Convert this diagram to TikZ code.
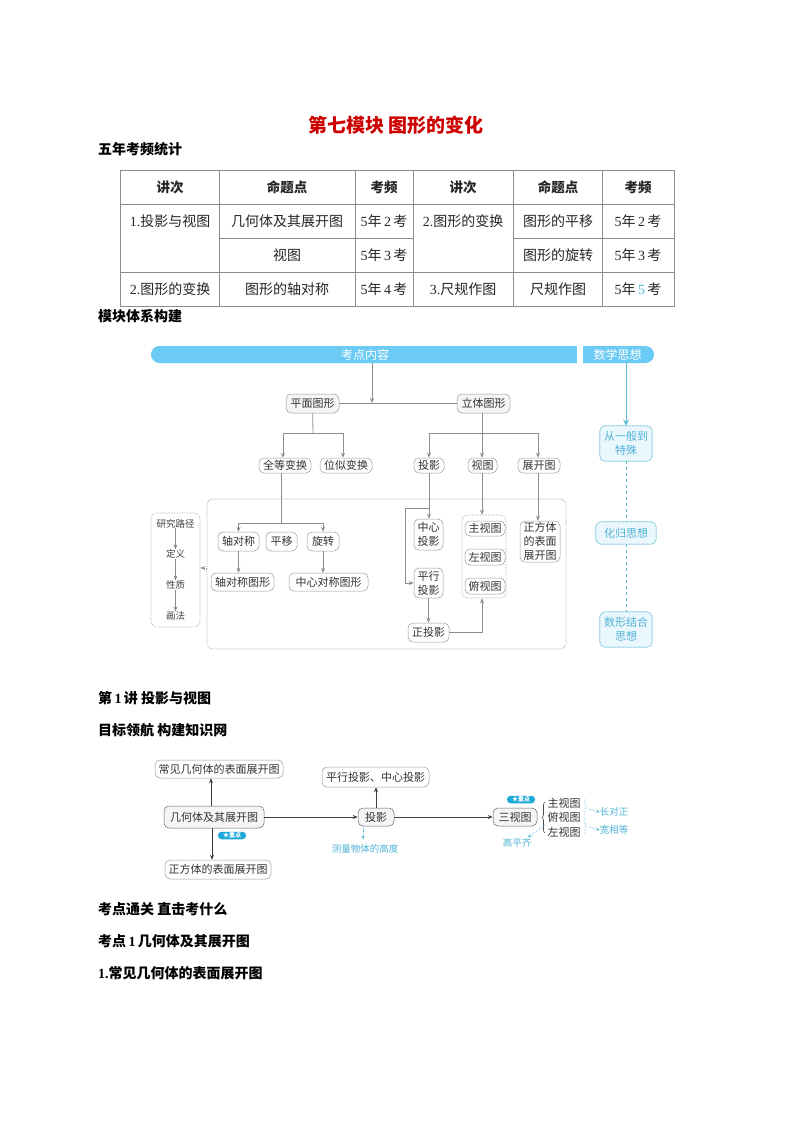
\documentclass[tikz,border=0pt]{standalone}
\usepackage{fontspec}
\setmainfont{Noto Sans CJK SC}
\newfontfamily\lat{Liberation Serif}
\usetikzlibrary{shapes.misc,arrows.meta,positioning,calc,decorations.pathreplacing}
\definecolor{barblue}{HTML}{6CCBF4}
\definecolor{thinkline}{HTML}{5DBAD9}
\definecolor{thinktext}{HTML}{4FB3D6}
\definecolor{thinkfill}{HTML}{EAF7FC}
\definecolor{linegray}{HTML}{8C8C8C}
\definecolor{boxgray}{HTML}{9A9A9A}
\definecolor{badgeblue}{HTML}{1FA9D8}
\newcommand{\freq}[1]{{\lat 5}年\,{\lat #1}\,考}
\tikzset{
    heading/.style = {anchor=west, inner sep=0pt, font=\fontsize{14}{16}\selectfont\bfseries},
    tcell/.style   = {font=\fontsize{14}{16}\selectfont, text=black!85},
    thead/.style   = {tcell, font=\fontsize{13.5}{16}\selectfont\bfseries},
    tline/.style   = {draw=linegray, line width=0.7pt},
    boxn/.style    = {draw=boxgray, line width=0.5pt, rounded corners=5pt, inner sep=0pt, align=center,
                      font=\fontsize{11}{14}\selectfont, text=black!80},
    boxf/.style    = {boxn, fill=gray!8},
    bar/.style     = {rounded rectangle, fill=barblue, minimum height=17pt, inner sep=0pt,
                      font=\fontsize{12}{14}\selectfont, text=white},
    thinkbox/.style = {draw=thinkline, densely dotted, line width=0.6pt, fill=thinkfill, rounded corners=5pt,
                      preaction={draw=thinkline!55, solid, line width=1.3pt},
                      inner sep=0pt, align=center, font=\fontsize{11}{14}\selectfont, text=thinktext},
    dotbox/.style  = {draw=boxgray, densely dotted, line width=0.6pt, rounded corners=6pt, inner sep=0pt},
    step2/.style   = {font=\fontsize{9.5}{11}\selectfont, text=black!75, inner sep=0pt},
    badge/.style   = {fill=badgeblue, rounded corners=3.5pt, inner sep=0pt, minimum width=28pt, minimum height=7.5pt,
                      text=white, font=\fontsize{6}{7}\selectfont\bfseries},
    hand/.style    = {text=thinktext, inner sep=0pt, font=\fontsize{9.5}{11}\selectfont},
    plain2/.style  = {inner sep=0pt, font=\fontsize{11}{13}\selectfont, text=black!80},
    link/.style    = {draw=linegray, line width=0.8pt},
    linkto/.style  = {link, -{Stealth[length=5pt,width=4pt]}},
    darkto/.style  = {draw=black!75, line width=0.7pt, -{Stealth[length=5pt,width=4pt]}},
    thinkto/.style = {draw=thinkline, line width=1pt, -{Stealth[length=6pt,width=6pt]}},
    thinkdash/.style = {draw=thinkline, line width=0.7pt, dashed},
    handto/.style  = {draw=thinkline, line width=0.7pt, densely dotted, -{Stealth[length=3.5pt,width=3.5pt]}}
}
\begin{document}
\begin{tikzpicture}[x=1pt,y=-1pt]
    \useasboundingbox (0,0) rectangle (794,1123);
    \fill[white] (0,0) rectangle (794,1123);
    % headings
    \node[text=red!80!black, font=\fontsize{19}{22}\selectfont\bfseries] (title) at (396,125) {第七模块 图形的变化};
    \node[heading] (h1) at (98,149) {五年考频统计};
    \node[heading] (h2) at (98,316) {模块体系构建};
    \node[heading] (h3) at (98,698) {第\,{\lat\bfseries 1}\,讲 投影与视图};
    \node[heading] (h4) at (98,730) {目标领航 构建知识网};
    \node[heading] (h5) at (98,909) {考点通关 直击考什么};
    \node[heading] (h6) at (98,941) {考点\,{\lat\bfseries 1}\,几何体及其展开图};
    \node[heading] (h7) at (98,973) {{\lat\bfseries 1.}常见几何体的表面展开图};
    % table
    \draw[tline] (120,170) rectangle (674,306);
    \foreach \x in {219,355,413,513,602} \draw[tline] (\x,170) -- (\x,306);
    \draw[tline] (120,204) -- (674,204);
    \draw[tline] (120,272) -- (674,272);
    \draw[tline] (219,238) -- (413,238);
    \draw[tline] (513,238) -- (674,238);
    \node[thead] (a1) at (170,187) {讲次};
    \node[thead] (a2) at (287,187) {命题点};
    \node[thead] (a3) at (384,187) {考频};
    \node[thead] (a4) at (463,187) {讲次};
    \node[thead] (a5) at (558,187) {命题点};
    \node[thead] (a6) at (638,187) {考频};
    \node[tcell] (b1) at (170,221) {{\lat 1.}投影与视图};
    \node[tcell] (b2) at (287,221) {几何体及其展开图};
    \node[tcell] (b3) at (384,221) {\freq{2}};
    \node[tcell] (b4) at (463,221) {{\lat 2.}图形的变换};
    \node[tcell] (b5) at (558,221) {图形的平移};
    \node[tcell] (b6) at (638,221) {\freq{2}};
    \node[tcell] (c2) at (287,255) {视图};
    \node[tcell] (c3) at (384,255) {\freq{3}};
    \node[tcell] (c5) at (558,255) {图形的旋转};
    \node[tcell] (c6) at (638,255) {\freq{3}};
    \node[tcell] (d1) at (170,289) {{\lat 2.}图形的变换};
    \node[tcell] (d2) at (287,289) {图形的轴对称};
    \node[tcell] (d3) at (384,289) {\freq{4}};
    \node[tcell] (d4) at (463,289) {{\lat 3.}尺规作图};
    \node[tcell] (d5) at (558,289) {尺规作图};
    \node[tcell] (d6) at (638,289) {{\lat 5}年{\lat\color{thinktext}\,5\,}考};
    % top bars
    \node[bar, rounded rectangle east arc=none, minimum width=426pt] (content) at (365,354.5) {考点内容};
    \node[bar, rounded rectangle west arc=none, minimum width=71pt] (ideas) at (617.5,354.5) {数学思想};
    % structure
    \node[boxf, minimum width=53pt, minimum height=19pt] (flat) at (312.5,403.5) {平面图形};
    \node[boxf, minimum width=53pt, minimum height=19pt] (solid) at (483.5,403.5) {立体图形};
    \node[boxn, minimum width=52pt, minimum height=15pt] (congr) at (285,465.5) {全等变换};
    \node[boxn, minimum width=52pt, minimum height=15pt] (homo) at (346,465.5) {位似变换};
    \node[boxn, minimum width=30pt, minimum height=15pt] (proj) at (429,465.5) {投影};
    \node[boxn, minimum width=29pt, minimum height=15pt] (view) at (482.5,465.5) {视图};
    \node[boxn, minimum width=42pt, minimum height=15pt] (unfold) at (539,465.5) {展开图};
    \node[dotbox, minimum width=359pt, minimum height=150pt] (frame) at (386.5,574) {};
    \node[dotbox, minimum width=49pt, minimum height=114pt] (pathbox) at (175.5,570) {};
    \node[step2] (p1) at (175.5,523.5) {研究路径};
    \node[step2] (p2) at (175.5,554) {定义};
    \node[step2] (p3) at (175.5,585) {性质};
    \node[step2] (p4) at (175.5,616) {画法};
    \node[boxn, minimum width=41pt, minimum height=19pt] (axis) at (238.5,541.5) {轴对称};
    \node[boxn, minimum width=31pt, minimum height=19pt] (shift) at (281.5,541.5) {平移};
    \node[boxn, minimum width=32pt, minimum height=19pt] (turn) at (323,541.5) {旋转};
    \node[boxn, minimum width=63pt, minimum height=18pt] (axisfig) at (242.5,582) {轴对称图形};
    \node[boxn, minimum width=79pt, minimum height=18pt] (centerfig) at (328.5,582) {中心对称图形};
    \node[boxn, minimum width=29pt, minimum height=31pt] (cproj) at (428.5,534.5) {中心\\投影};
    \node[boxn, minimum width=29pt, minimum height=30pt] (pproj) at (428.5,583) {平行\\投影};
    \node[boxn, minimum width=41pt, minimum height=19pt] (oproj) at (428.5,632.5) {正投影};
    \node[dotbox, minimum width=44pt, minimum height=83pt] (viewbox) at (484,556.5) {};
    \node[boxn, minimum width=40pt, minimum height=15pt] (front) at (485,528.5) {主视图};
    \node[boxn, minimum width=40pt, minimum height=16pt] (left) at (485,557) {左视图};
    \node[boxn, minimum width=40pt, minimum height=16pt] (top) at (485,586) {俯视图};
    \node[boxn, minimum width=40pt, minimum height=41pt] (cube) at (540,541.5) {正方体\\的表面\\展开图};
    \node[thinkbox, minimum width=52pt, minimum height=35pt] (general) at (626,443.5) {从一般到\\特殊};
    \node[thinkbox, minimum width=60pt, minimum height=22pt] (reduce) at (626,533) {化归思想};
    \node[thinkbox, minimum width=52pt, minimum height=35pt] (numshape) at (626,629.5) {数形结合\\思想};
    \coordinate (flatfork) at (313,433);
    \coordinate (solidfork) at (482,433);
    \coordinate (congrfork) at (281,523);
    \coordinate (midline) at (372,403);
    \coordinate (projfork) at (429,508);
    \coordinate (projturn) at (405,545);
    % connectors
    \draw[linkto] ([xshift=7pt]content.south) -- (midline);
    \draw[link] (flat) -- (solid);
    \draw[link] (flat) -- (flatfork);
    \draw[linkto] (flatfork) -| ([xshift=-2pt]congr.north);
    \draw[linkto] (flatfork) -| ([xshift=-3pt]homo.north);
    \draw[link] (solid.south -| solidfork) -- (solidfork);
    \draw[linkto] (solidfork) -| (proj.north);
    \draw[linkto] (solidfork) -- (view.north -| solidfork);
    \draw[linkto] (solidfork) -| ([xshift=-1pt]unfold.north);
    \draw[link] (congr.south -| congrfork) -- (congrfork);
    \draw[linkto] (congrfork) -| (axis.north);
    \draw[linkto] (congrfork) -| (turn.north);
    \draw[linkto] (axis) -- (axis.south |- axisfig.north);
    \draw[linkto] (turn) -- (turn.south |- centerfig.north);
    \draw[linkto] (proj) -- (cproj.north -| proj);
    \draw[link] (projfork) -| (projturn);
    \draw[linkto] (projturn) |- (pproj.west);
    \draw[linkto] (pproj) -- (oproj);
    \draw[linkto] (oproj) -| (viewbox.south -| solidfork);
    \draw[linkto] (view.south -| solidfork) -- (viewbox.north -| solidfork);
    \draw[linkto] ([xshift=-1pt]unfold.south) -- ([xshift=-2pt]cube.north);
    \draw[linkto, densely dotted] (frame.west |- 0,568) -- (pathbox.east |- 0,568);
    \foreach \a/\b in {p1/p2,p2/p3,p3/p4}
        \draw[linkto] (\a) -- (\b);
    \draw[thinkto] (ideas.south -| general) -- (general);
    \draw[thinkdash] (general) -- (reduce);
    \draw[thinkdash] (reduce) -- (numshape);
    % knowledge net
    \node[boxn, minimum width=128pt, minimum height=18pt] (common) at (219,769) {常见几何体的表面展开图};
    \node[boxf, minimum width=100pt, minimum height=22pt, draw=black!60] (solids) at (214,817) {几何体及其展开图};
    \node[boxn, minimum width=106pt, minimum height=19pt] (cubenet) at (218,869.5) {正方体的表面展开图};
    \node[badge] (key1) at (232,835.5) {★重点};
    \node[boxf, minimum width=36pt, minimum height=18pt, draw=black!60] (projb) at (376,817) {投影};
    \node[boxn, minimum width=107pt, minimum height=20pt] (kinds) at (375.5,777) {平行投影、中心投影};
    \node[hand] (height) at (365,849) {测量物体的高度};
    \node[boxf, minimum width=44pt, minimum height=18pt, draw=black!60] (three) at (515,817) {三视图};
    \node[badge] (key2) at (521,799.5) {★重点};
    \node[plain2] (vfront) at (564,803) {主视图};
    \node[plain2] (vtop) at (564,817) {俯视图};
    \node[plain2] (vleft) at (564,832) {左视图};
    \node[hand] (rule1) at (614,812) {长对正};
    \node[hand] (rule2) at (614,830) {宽相等};
    \node[hand] (rule3) at (517,843) {高平齐};
    \coordinate (bracea) at (545,802);
    \coordinate (braceb) at (545,833);
    \coordinate (brace1a) at (584,799);
    \coordinate (brace1b) at (584,815);
    \coordinate (brace2a) at (584,817);
    \coordinate (brace2b) at (584,835);
    \draw[darkto] (solids.north -| common.south) ++(-8pt,0) -- ([xshift=-8pt]common.south);
    \draw[darkto] ([xshift=-2pt]solids.south) -- ([xshift=-6pt]cubenet.north);
    \draw[darkto] (solids) -- (projb);
    \draw[darkto] (projb) -- (kinds.south -| projb);
    \draw[darkto] (projb) -- (three);
    \draw[handto] ([xshift=-13pt]projb.south) -- ([xshift=-2pt,yshift=5pt]height.north);
    \draw[draw=black!70, line width=0.6pt, decorate, decoration={brace, amplitude=3pt, mirror}] (bracea) -- (braceb);
    \draw[draw=thinkline, line width=0.6pt, densely dotted, decorate, decoration={brace, amplitude=2pt}] (brace1a) -- (brace1b);
    \draw[draw=thinkline, line width=0.6pt, densely dotted, decorate, decoration={brace, amplitude=2pt}] (brace2a) -- (brace2b);
    \draw[handto] (589,809) -- (rule1.west);
    \draw[handto] (589,827) -- (rule2.west);
    \draw[handto] (braceb) ++(0,8pt) -- ([xshift=11pt,yshift=1pt]rule3.north);
\end{tikzpicture}
\end{document}
